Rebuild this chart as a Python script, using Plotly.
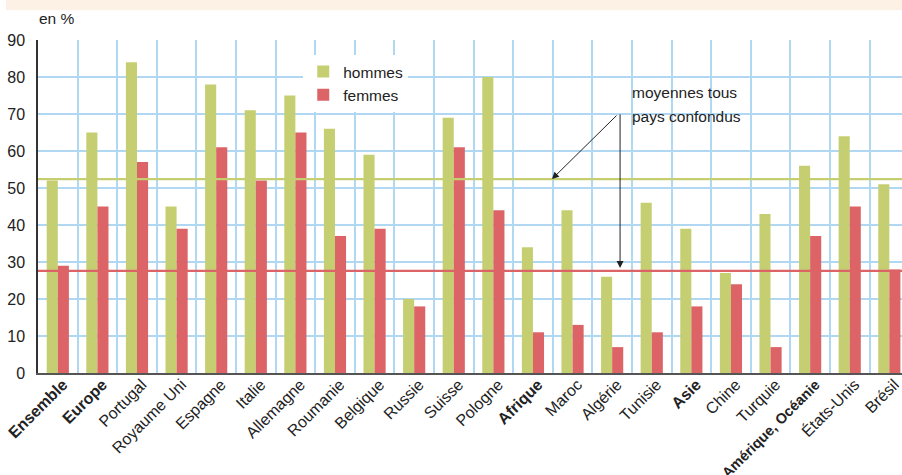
import plotly.graph_objects as go

categories = ["Ensemble", "Europe", "Portugal", "Royaume Uni", "Espagne", "Italie",
              "Allemagne", "Roumanie", "Belgique", "Russie", "Suisse", "Pologne",
              "Afrique", "Maroc", "Algérie", "Tunisie", "Asie", "Chine", "Turquie",
              "Amérique, Océanie", "États-Unis", "Brésil"]
bold = [True, True, False, False, False, False, False, False, False, False, False, False,
        True, False, False, False, True, False, False, True, False, False]
hommes = [52, 65, 84, 45, 78, 71, 75, 66, 59, 20, 69, 80, 34, 44, 26, 46, 39, 27, 43, 56, 64, 51]
femmes = [29, 45, 57, 39, 61, 52, 65, 37, 39, 18, 61, 44, 11, 13, 7, 11, 18, 24, 7, 37, 45, 28]
moyenne_hommes = 52.4
moyenne_femmes = 27.6
y_ticks = [0, 10, 20, 30, 40, 50, 60, 70, 80, 90]

GREEN = "#c5cf72"
RED = "#dc6467"
GRID = "#b0d8f2"
FONT = "Liberation Sans, Arial, sans-serif"


def fmt_label(name, is_bold):
    if not is_bold:
        return name
    if len(name) > 12:
        return f'<span style="font-size:14.5px"><b>{name}</b></span>'
    return f"<b>{name}</b>"


ticktext = [fmt_label(c, b) for c, b in zip(categories, bold)]

fig = go.Figure()
fig.add_trace(go.Bar(x=categories, y=hommes, name="hommes", marker=dict(color=GREEN, line_width=0)))
fig.add_trace(go.Bar(x=categories, y=femmes, name="femmes", marker=dict(color=RED, line_width=0)))

fig.update_layout(
    width=902, height=475,
    margin=dict(l=38, r=0, t=40, b=102, autoexpand=False),
    paper_bgcolor="white", plot_bgcolor="white",
    barmode="group", bargap=0.44, bargroupgap=0,
    font=dict(family=FONT, size=15, color="#222"),
    legend=dict(x=0.307, y=0.955, xanchor="left", yanchor="top", bgcolor="white",
                font=dict(size=15.5, color="#222"), tracegroupgap=0),
    showlegend=True,
)
fig.update_xaxes(
    type="category", range=[-0.5, 21.32], automargin=False,
    tickmode="array", tickvals=categories, ticktext=ticktext,
    tickson="boundaries", ticks="", tickangle=-45,
    ticklabelstandoff=-6, ticklabelshift=5,
    tickfont=dict(size=16, color="#222"),
    showgrid=True, gridcolor=GRID, gridwidth=1.5,
    showline=True, linecolor="#555", linewidth=2,
)
fig.update_yaxes(
    range=[0, 90], tickmode="array", tickvals=y_ticks, automargin=False,
    showgrid=True, gridcolor=GRID, gridwidth=1.5, zeroline=False,
    showline=True, linecolor="#333", linewidth=1.5,
    ticks="", ticklabelstandoff=8,
    tickfont=dict(size=16, color="#222"),
)

# moyennes
fig.add_shape(type="line", xref="paper", x0=0, x1=1, yref="y", y0=moyenne_hommes, y1=moyenne_hommes,
              line=dict(color=GREEN, width=2.2), layer="above")
fig.add_shape(type="line", xref="paper", x0=0, x1=1, yref="y", y0=moyenne_femmes, y1=moyenne_femmes,
              line=dict(color=RED, width=2.2), layer="above")

# top band
fig.add_shape(type="rect", xref="paper", yref="paper", x0=-0.037, x1=1.01, y0=1.089, y1=1.14,
              fillcolor="#fdf1e6", line_width=0, layer="above")

# white box behind the note (hides the grid)
fig.add_shape(type="rect", xref="paper", yref="paper", x0=0.678, x1=0.815, y0=0.73, y1=0.895,
              fillcolor="white", line_width=0, layer="between")

fig.add_annotation(text="en %", xref="paper", yref="paper", x=-0.001, y=1.064,
                   xanchor="left", yanchor="middle", showarrow=False, font=dict(size=15.5, color="#222"))

fig.add_annotation(text="moyennes tous", xref="paper", yref="paper",
                   x=0.685, y=0.842, xanchor="left", yanchor="middle", showarrow=False,
                   font=dict(size=15.5, color="#222"))
fig.add_annotation(text="pays confondus", xref="paper", yref="paper",
                   x=0.685, y=0.770, xanchor="left", yanchor="middle", showarrow=False,
                   font=dict(size=15.5, color="#222"))

# arrows
fig.add_annotation(text="", x=12.48, y=moyenne_hommes, xref="x", yref="y",
                   ax=66, ay=-65, axref="pixel", ayref="pixel", showarrow=True,
                   arrowhead=2, arrowsize=1.4, arrowwidth=1, arrowcolor="#222")
fig.add_annotation(text="", x=14.2, y=28.4, xref="x", yref="y",
                   ax=0, ay=-155, axref="pixel", ayref="pixel", showarrow=True,
                   arrowhead=2, arrowsize=1.4, arrowwidth=1, arrowcolor="#222")

fig.write_html("out.html", config={"displayModeBar": False},
               post_script="document.body.style.margin='0';document.body.style.overflow='hidden';")
